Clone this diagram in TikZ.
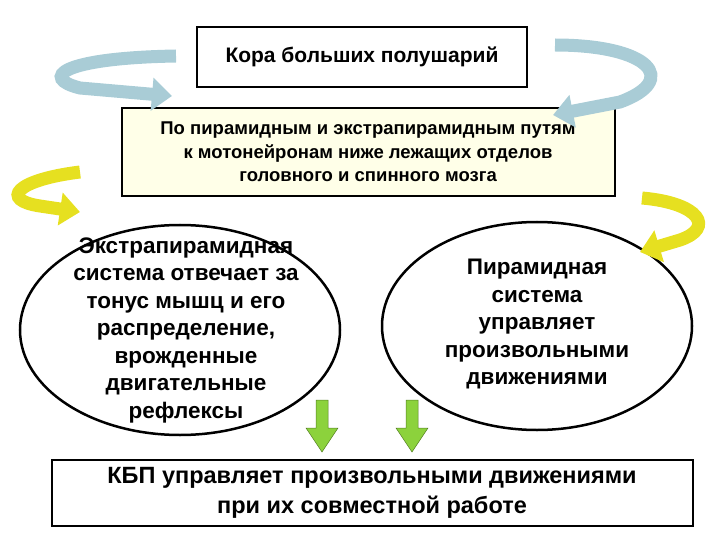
\documentclass[tikz,border=0pt]{standalone}
\usepackage{fontspec}
\setmainfont{Liberation Sans}
\usetikzlibrary{arrows.meta}
\definecolor{bluear}{HTML}{A9CCD6}
\definecolor{yellar}{HTML}{E6E020}
\definecolor{boxfill}{HTML}{FFFFE8}
\definecolor{grn}{HTML}{8CD23C}
\tikzset{
  box/.style={draw, line width=2pt, align=center, font=\bfseries},
  curv/.style={line width=13pt, -{Triangle[width=32pt,length=20pt]}},
  down/.style={draw=grn!60!black, fill=grn, line width=0.5pt},
}
\begin{document}
\begin{tikzpicture}[x=1pt,y=-1pt]
\useasboundingbox (0,0) rectangle (720,540);
\node[box, minimum width=330pt, minimum height=60pt, font=\bfseries\fontsize{21}{25}\selectfont] (top) at (362,57) {Кора больших полушарий};
\node[box, fill=boxfill, minimum width=493pt, minimum height=88pt, font=\bfseries\fontsize{18.5}{23.5}\selectfont] (mid) at (368,152)
 {По пирамидным и экстрапирамидным путям\\к мотонейронам ниже лежащих отделов\\головного и спинного мозга};
\draw[line width=2.5pt] (180,330) ellipse [x radius=160, y radius=105];
\node[align=center, font=\bfseries\fontsize{22.5}{27.5}\selectfont] (left) at (186,330)
 {Экстрапирамидная\\система отвечает за\\тонус мышц и его\\распределение,\\врожденные\\двигательные\\рефлексы};
\draw[line width=2.5pt] (537,326) ellipse [x radius=155, y radius=104];
\node[align=center, font=\bfseries\fontsize{22.5}{27.5}\selectfont] (right) at (537,324)
 {Пирамидная\\система\\управляет\\произвольными\\движениями};
\node[box, minimum width=641pt, minimum height=66pt, font=\bfseries\fontsize{23.5}{30}\selectfont] (bot) at (372,493)
 {КБП управляет произвольными движениями\\при их совместной работе};
% green down arrows
\draw[down] (316,400) -- (328,400) -- (328,428) -- (338,428) -- (322,452) -- (306,428) -- (316,428) -- cycle;
\draw[down] (406,400) -- (418,400) -- (418,428) -- (428,428) -- (412,452) -- (396,428) -- (406,428) -- cycle;
% curved arrows
\coordinate (a1) at (176,56);
\coordinate (a2) at (172,96);
\draw[curv, bluear] (a1) .. controls (60,58) and (40,78) .. (80,88) -- (a2);
\coordinate (b1) at (555,45);
\coordinate (b2) at (553,115);
\draw[curv, bluear] (b1) .. controls (650,45) and (680,80) .. (620,102) -- (b2);
\coordinate (c1) at (80,172);
\coordinate (c2) at (80,212);
\draw[curv, yellar] (c1) .. controls (15,180) and (0,200) .. (40,206) -- (c2);
\coordinate (d1) at (642,198);
\coordinate (d2) at (640,252);
\draw[curv, yellar] (d1) .. controls (700,203) and (715,228) .. (680,240) -- (d2);
\end{tikzpicture}
\end{document}
